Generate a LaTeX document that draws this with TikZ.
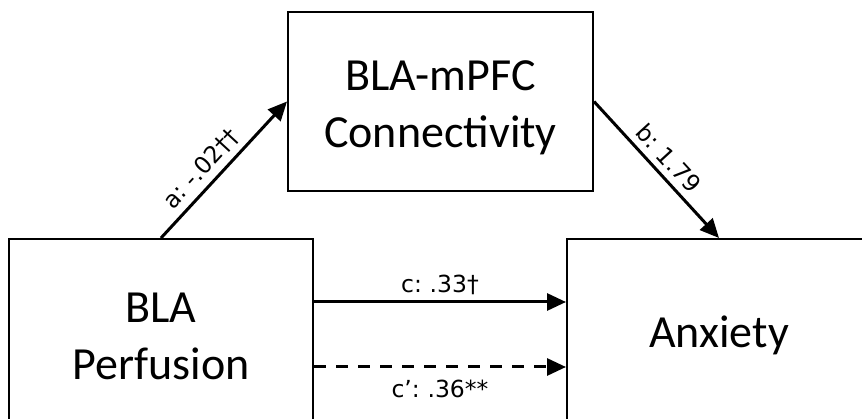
\documentclass[tikz,border=0pt]{standalone}
\usepackage{fontspec}
\setmainfont{Carlito}
\newfontfamily\labfont[WordSpace=0.7]{DejaVu Sans}
\usetikzlibrary{arrows.meta}
\tikzset{
  box/.style={draw=black, line width=2pt, fill=white, inner sep=0pt},
  boxtext/.style={align=center, inner sep=0pt, font=\fontsize{46}{57}\selectfont},
  conn/.style={line width=3pt, -{Triangle[length=19pt,width=17pt]}},
  lab/.style={font=\labfont\fontsize{23.5}{26}\selectfont, inner sep=2pt}
}
\begin{document}
\begin{tikzpicture}[x=1pt,y=-1pt]
\useasboundingbox (0,0) rectangle (862,419);
\clip (0,0) rectangle (862,419);
\fill[white] (0,0) rectangle (862,419);
\node[box, minimum width=305pt, minimum height=179pt] (M) at (440.5,101.5) {};
\node[box, minimum width=304pt, minimum height=192pt] (L) at (161,335) {};
\node[box, minimum width=304pt, minimum height=192pt] (R) at (719,335) {};
\node[boxtext, yshift=-6pt] (Mt) at (M.center) {BLA-mPFC\\Connectivity};
\node[boxtext, yshift=-1pt] (Lt) at (L.center) {BLA\\Perfusion};
\node[boxtext, yshift=0pt] (Rt) at (R.center) {Anxiety};
\draw[conn] (L.north) -- node[lab, pos=0.42, sloped, above=4pt] {a: -.02††} (M.west);
\draw[conn] (M.east) -- node[lab, pos=0.5, sloped, above=4pt] {b: 1.79} (R.north);
\draw[conn] ([yshift=33pt]L.east) -- node[lab, above=4pt] {c: .33†} ([yshift=33pt]R.west);
\draw[conn, dash pattern=on 12pt off 10pt] ([yshift=-32pt]L.east) -- node[lab, below=10pt] {c’: .36**} ([yshift=-32pt]R.west);
\end{tikzpicture}
\end{document}
